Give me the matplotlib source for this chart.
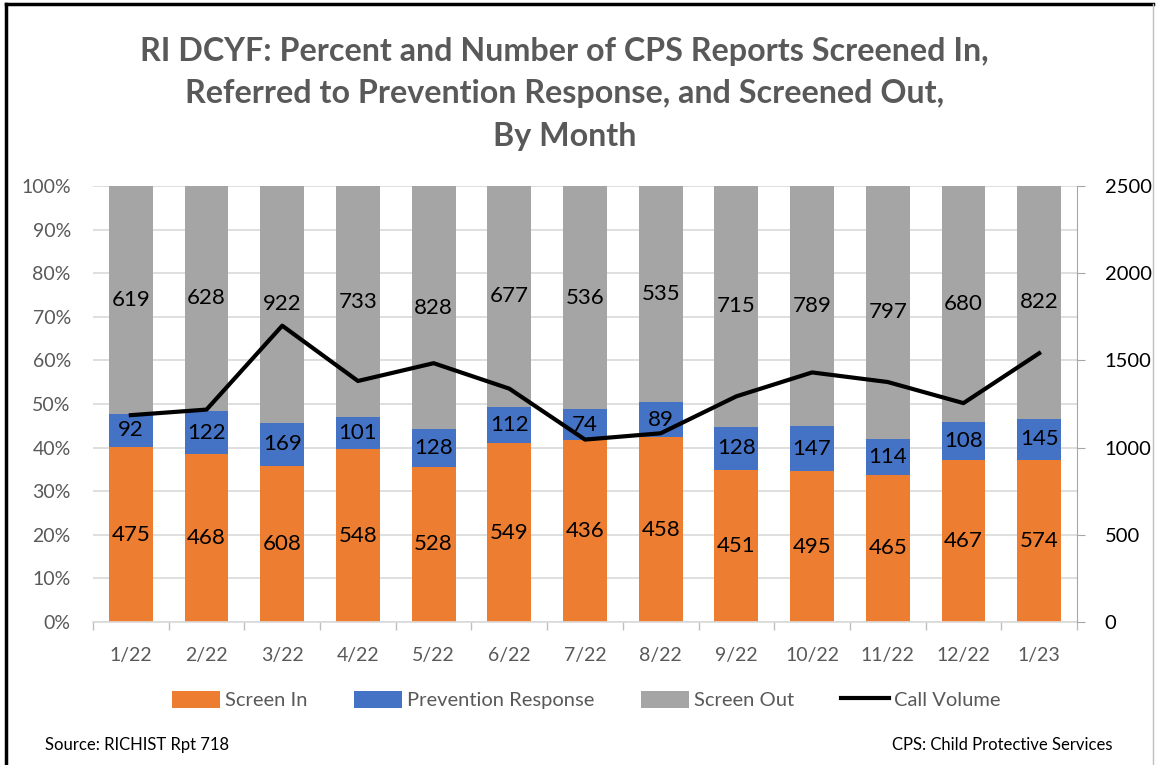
import numpy as np
import matplotlib
matplotlib.use("Agg")
import matplotlib.pyplot as plt
from matplotlib.lines import Line2D

months = ["1/22", "2/22", "3/22", "4/22", "5/22", "6/22", "7/22",
          "8/22", "9/22", "10/22", "11/22", "12/22", "1/23"]
screen_in = [475, 468, 608, 548, 528, 549, 436, 458, 451, 495, 465, 467, 574]
prevention = [92, 122, 169, 101, 128, 112, 74, 89, 128, 147, 114, 108, 145]
screen_out = [619, 628, 922, 733, 828, 677, 536, 535, 715, 789, 797, 680, 822]
call_volume = [1186, 1218, 1699, 1382, 1484, 1338, 1046, 1082, 1294, 1431, 1376, 1255, 1541]

plt.rcParams["font.family"] = ["Lato", "DejaVu Sans"]

ORANGE = "#ED7D31"
BLUE = "#4472C4"
GRAY = "#A5A5A5"
TXT = "#595959"

fig = plt.figure(figsize=(11.57, 7.65), dpi=100)
ax = fig.add_axes([93 / 1157, 1 - 622 / 765, (1077 - 93) / 1157, (622 - 186) / 765])

x = np.arange(len(months))
si = np.array(screen_in, dtype=float)
pr = np.array(prevention, dtype=float)
so = np.array(screen_out, dtype=float)
tot = si + pr + so
p_si, p_pr, p_so = si / tot * 100, pr / tot * 100, so / tot * 100

w = 0.58
b1 = ax.bar(x, p_si, w, color=ORANGE, label="Screen In", zorder=2)
b2 = ax.bar(x, p_pr, w, bottom=p_si, color=BLUE, label="Prevention Response", zorder=2)
b3 = ax.bar(x, p_so, w, bottom=p_si + p_pr, color=GRAY, label="Screen Out", zorder=2)

# count labels centred in each segment
for vals, pcts, bottoms in [(si, p_si, 0), (pr, p_pr, p_si), (so, p_so, p_si + p_pr)]:
    centers = bottoms + pcts / 2
    for xi, v, c in zip(x, vals, centers):
        ax.text(xi, c, f"{int(v)}", ha="center", va="center", fontsize=16,
                color="black", zorder=5)

ax.set_ylim(0, 100)
ax.set_xlim(-0.5, len(months) - 0.5)
ax.set_yticks(np.arange(0, 101, 10))
ax.set_yticklabels([f"{v}%" for v in range(0, 101, 10)])
ax.yaxis.grid(True, color="#D9D9D9", lw=1.2, zorder=0)
ax.set_axisbelow(True)
ax.tick_params(axis="y", length=0, labelsize=14, labelcolor=TXT, pad=16)
ax.set_xticks(x)
ax.set_xticklabels(months)
ax.set_xticks(np.arange(-0.5, len(months), 1), minor=True)
ax.tick_params(axis="x", which="major", length=0, labelsize=14, labelcolor=TXT, pad=18)
ax.tick_params(axis="x", which="minor", length=6, color="#BFBFBF", width=1)
for s in ["top", "left", "right"]:
    ax.spines[s].set_visible(False)
ax.spines["bottom"].set_color("#D9D9D9")
ax.spines["bottom"].set_linewidth(1.2)

ax2 = ax.twinx()
ln, = ax2.plot(x, call_volume, color="black", lw=3, label="Call Volume", zorder=6)
ax2.set_ylim(0, 2500)
ax2.set_yticks(np.arange(0, 2501, 500))
ax2.tick_params(axis="y", length=6, color="#A6A6A6", labelsize=14.5, labelcolor="black", pad=14)
for s in ["top", "left", "bottom"]:
    ax2.spines[s].set_visible(False)
ax2.spines["right"].set_color("#A6A6A6")

fig.text(0.488, 1 - 94 / 765,
         "RI DCYF: Percent and Number of CPS Reports Screened In,\n"
         "Referred to Prevention Response, and Screened Out,\nBy Month",
         ha="center", va="center", fontsize=23.2, fontweight="bold", color=TXT,
         linespacing=1.55)

handles = [b1, b2, b3, Line2D([0], [0], color="black", lw=3)]
labels = ["Screen In", "Prevention Response", "Screen Out", "Call Volume"]
fig.legend(handles, labels, loc="center", bbox_to_anchor=(586 / 1157, 1 - 700 / 765),
           ncol=4, frameon=False, fontsize=14.5, labelcolor=TXT, handlelength=2.4,
           handleheight=0.9, handletextpad=0.25, columnspacing=2.3)

fig.text(45 / 1157, 1 - 745 / 765, "Source: RICHIST Rpt 718", ha="left", va="center",
         fontsize=12, color="black")
fig.text(1112 / 1157, 1 - 745 / 765, "CPS: Child Protective Services", ha="right",
         va="center", fontsize=12, color="black")

# outer frame
fig.add_artist(Line2D([6 / 1157, 6 / 1157], [0, 1 - 4 / 765], color="black", lw=2.5,
                      transform=fig.transFigure))
fig.add_artist(Line2D([6 / 1157, 1153 / 1157], [1 - 4 / 765, 1 - 4 / 765], color="black",
                      lw=2.5, transform=fig.transFigure))
fig.add_artist(Line2D([1153 / 1157, 1153 / 1157], [0, 1 - 4 / 765], color="#BFBFBF", lw=1,
                      transform=fig.transFigure))

fig.savefig("out.png", dpi=100)
